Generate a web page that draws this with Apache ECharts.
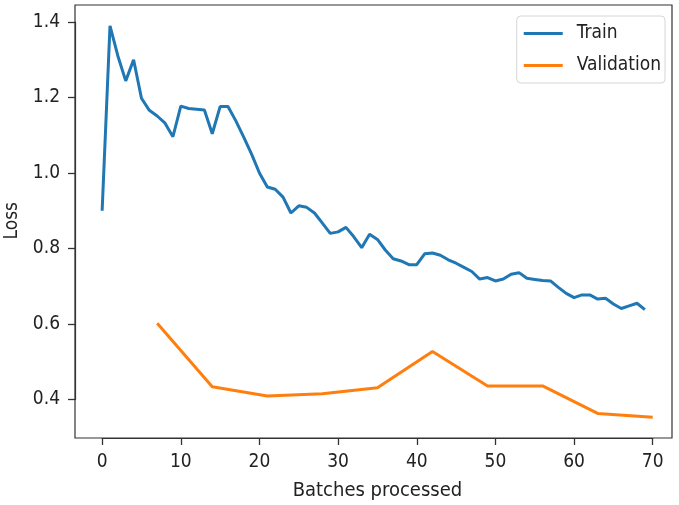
<!DOCTYPE html>
<html>
<head>
<meta charset="utf-8">
<script src="https://cdn.jsdelivr.net/npm/echarts@6/dist/echarts.min.js"></script>
<style>
  html, body { margin: 0; padding: 0; background: #fff; }
  #chart { width: 679px; height: 505px; }
</style>
</head>
<body>
<div id="chart"></div>
<script>
// loss per batch
const trainLoss = [
  0.90, 1.39, 1.31, 1.244, 1.30, 1.198, 1.166, 1.151, 1.132, 1.096,
  1.177, 1.171, 1.169, 1.167, 1.104, 1.176, 1.176, 1.138, 1.095, 1.050,
  1.000, 0.963, 0.957, 0.936, 0.894, 0.913, 0.909, 0.894, 0.867, 0.840,
  0.844, 0.856, 0.831, 0.802, 0.838, 0.824, 0.796, 0.773, 0.767, 0.757,
  0.757, 0.786, 0.788, 0.782, 0.770, 0.761, 0.750, 0.739, 0.719, 0.723,
  0.714, 0.719, 0.732, 0.736, 0.721, 0.718, 0.715, 0.714, 0.697, 0.681,
  0.670, 0.677, 0.677, 0.666, 0.668, 0.653, 0.641, 0.648, 0.655, 0.638
];
const valBatches = [7, 14, 21, 28, 35, 42, 49, 56, 63, 70];
const valLoss = [0.602, 0.434, 0.409, 0.415, 0.431, 0.527, 0.436, 0.436, 0.363, 0.353];

// tick range / step
const xTickMin = 0, xTickMax = 70, xStep = 10;
const yTickMin = 0.4, yTickMax = 1.4, yStep = 0.2;

// full view range (matplotlib style margins)
const xMin = -3.45, xMax = 72.45;
const yMin = 0.298, yMax = 1.445;

const trainData = trainLoss.map((v, i) => [i, v]);
const valData = valBatches.map((b, i) => [b, valLoss[i]]);

const font = 'DejaVu Sans Condensed';
const W = 679, H = 505;
const outer = { left: 75, right: 7, top: 5, bottom: 67 };
const pw = W - outer.left - outer.right;
const ph = H - outer.top - outer.bottom;

// inner grid spans exactly the ticked range, so its axes can use interval
const inner = {
  left: outer.left + (xTickMin - xMin) / (xMax - xMin) * pw,
  right: outer.right + (xMax - xTickMax) / (xMax - xMin) * pw,
  top: outer.top + (yMax - yTickMax) / (yMax - yMin) * ph,
  bottom: outer.bottom + (yTickMin - yMin) / (yMax - yMin) * ph
};

const spine = { color: '#333', width: 1.2 };
const chart = echarts.init(document.getElementById('chart'));

chart.setOption({
  animation: false,
  backgroundColor: '#fff',
  grid: [
    {
      left: outer.left, right: outer.right, top: outer.top, bottom: outer.bottom,
      outerBoundsMode: 'none',
      show: true,
      borderColor: '#333',
      borderWidth: 1.2
    },
    {
      left: inner.left, right: inner.right, top: inner.top, bottom: inner.bottom,
      outerBoundsMode: 'none'
    }
  ],
  legend: {
    orient: 'vertical',
    right: 14,
    top: 16,
    data: ['Train', 'Validation'],
    icon: 'rect',
    itemWidth: 39,
    itemHeight: 3,
    itemGap: 13,
    padding: [8, 4, 8, 7],
    borderColor: '#d6d6d6',
    borderWidth: 1,
    borderRadius: 4,
    backgroundColor: '#fff',
    textStyle: { fontFamily: font, fontSize: 19, color: '#222', padding: [0, 0, 0, 9] }
  },
  xAxis: [
    {
      gridIndex: 0, type: 'value', min: xMin, max: xMax, show: false
    },
    {
      gridIndex: 1, type: 'value',
      min: xTickMin, max: xTickMax, interval: xStep,
      offset: inner.bottom - outer.bottom,
      name: 'Batches processed',
      nameLocation: 'middle',
      nameGap: 43,
      nameTextStyle: { fontFamily: font, fontSize: 20, color: '#222' },
      axisLine: { show: true, onZero: false, lineStyle: spine },
      splitLine: { show: false },
      axisTick: { show: true, length: 7, inside: false, lineStyle: { color: '#333', width: 1.3 } },
      axisLabel: { margin: 15, fontFamily: font, fontSize: 19, color: '#222' }
    }
  ],
  yAxis: [
    {
      gridIndex: 0, type: 'value', min: yMin, max: yMax, show: false
    },
    {
      gridIndex: 1, type: 'value',
      min: yTickMin, max: yTickMax, interval: yStep,
      offset: inner.left - outer.left,
      name: 'Loss',
      nameLocation: 'middle',
      nameGap: 53,
      nameRotate: 90,
      nameTextStyle: { fontFamily: font, fontSize: 19, color: '#222', padding: [0, 20, 0, 0] },
      axisLine: { show: true, onZero: false, lineStyle: spine },
      splitLine: { show: false },
      axisTick: { show: true, length: 7, inside: false, lineStyle: { color: '#333', width: 1.3 } },
      axisLabel: {
        margin: 15, fontFamily: font, fontSize: 19, color: '#222',
        formatter: v => v.toFixed(1)
      }
    }
  ],
  series: [
    {
      name: 'Train',
      type: 'line',
      xAxisIndex: 0, yAxisIndex: 0,
      data: trainData,
      showSymbol: false,
      color: '#1f77b4',
      lineStyle: { width: 3, color: '#1f77b4' }
    },
    {
      name: 'Validation',
      type: 'line',
      xAxisIndex: 0, yAxisIndex: 0,
      data: valData,
      showSymbol: false,
      color: '#ff7f0e',
      lineStyle: { width: 3, color: '#ff7f0e' }
    }
  ]
});
</script>
</body>
</html>
